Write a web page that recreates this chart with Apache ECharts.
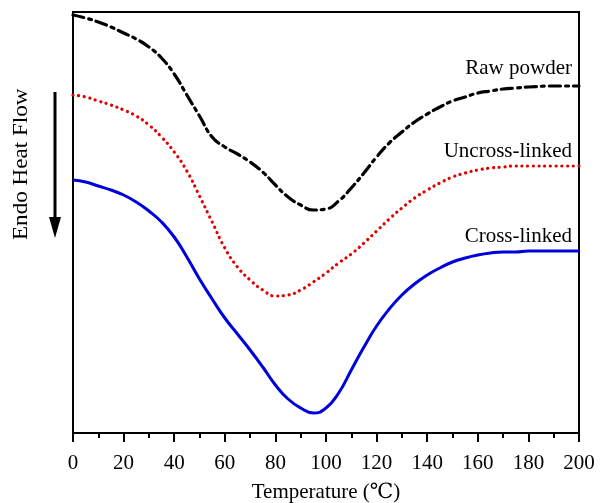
<!DOCTYPE html>
<html>
<head>
<meta charset="utf-8">
<script src="https://cdn.jsdelivr.net/npm/echarts@6/dist/echarts.min.js"></script>
<style>html,body{margin:0;padding:0;background:#fff}#c{width:605px;height:503px}</style>
</head>
<body>
<div id="c"></div>
<script>
// Temperature (°C)
const temps = [0,5,10,15,20,25,30,35,40,45,50,55,60,65,70,75,80,85,90,95,100,105,110,115,120,125,130,135,140,145,150,155,160,165,170,175,180,190,200];
// Heat flow readings (arbitrary units, measured downward from the top of the plot)
const rawPx =        [15,18,22,27,33,39,47,58,74,95,116,137,147,154,162,172,185,197,205,210,209,201,188,173,157,143,132,122,114,107,101,97,93,91,89,88,87,86,86];
const uncrossPx =    [95,97,101,105,110,116,125,137,152,171,196,222,248,267,280,290,296,295,290,282,273,263,254,243,231,219,208,198,190,183,177,173,170,168,167,166,166,166,166];
const crossPx =      [180,182,186,190,195,202,211,222,237,257,279,299,318,334,350,367,385,399,408,413,408,393,370,347,326,309,295,284,275,268,262,258,255,253,252,252,251,251,251];
const rawPowder = rawPx.map(v => 433 - v);
const uncrossLinked = uncrossPx.map(v => 433 - v);
const crossLinked = crossPx.map(v => 433 - v);
const xTicks = [0,20,40,60,80,100,120,140,160,180,200];
const seriesNames = ['Raw powder','Uncross-linked','Cross-linked'];

const font = '"Liberation Serif","DejaVu Serif",serif';
const pair = (arr) => temps.map((t,i) => [t, arr[i]]);

const chart = echarts.init(document.getElementById('c'));
chart.setOption({
  animation: false,
  grid: { left: 73, right: 26, top: 12, bottom: 70, containLabel: false, outerBoundsMode: 'none',
          show: true, borderColor: '#000', borderWidth: 2, backgroundColor: 'transparent' },
  xAxis: {
    type: 'value', min: 0, max: 200, interval: 20,
    axisLine: { show: true, lineStyle: { color: '#000', width: 2 } },
    axisTick: { show: true, inside: false, length: 9, lineStyle: { color: '#000', width: 2 } },
    minorTick: { show: true, splitNumber: 2, length: 5, lineStyle: { color: '#000', width: 2 } },
    splitLine: { show: false },
    axisLabel: { color: '#000', fontFamily: font, fontSize: 21, margin: 20, formatter: v => xTicks.includes(v) ? String(v) : '' },
    name: 'Temperature (\u2103)', nameLocation: 'middle', nameGap: 49,
    nameTextStyle: { color: '#000', fontFamily: font, fontSize: 21 }
  },
  yAxis: {
    type: 'value', min: 0, max: 421,
    axisLine: { show: true, lineStyle: { color: '#000', width: 2 } },
    axisTick: { show: false }, axisLabel: { show: false }, splitLine: { show: false }
  },
  series: [
    { name: seriesNames[0], type: 'line', data: pair(rawPowder), smooth: 0.5, symbol: 'none',
      lineStyle: { color: '#000', width: 3.2, type: [11, 5, 3, 5], cap: 'round' } },
    { name: seriesNames[1], type: 'line', data: pair(uncrossLinked), smooth: 0.5, symbol: 'none',
      lineStyle: { color: '#e00000', width: 3.2, type: [0.1, 5.6], cap: 'round' } },
    { name: seriesNames[2], type: 'line', data: pair(crossLinked), smooth: 0.5, symbol: 'none',
      lineStyle: { color: '#0000dd', width: 3 } }
  ],
  graphic: [
    { type: 'text', right: 33, top: 58, style: { text: seriesNames[0], font: '21px ' + font, fill: '#000' } },
    { type: 'text', right: 33, top: 141, style: { text: seriesNames[1], font: '21px ' + font, fill: '#000' } },
    { type: 'text', right: 33, top: 226, style: { text: seriesNames[2], font: '21px ' + font, fill: '#000' } },
    { type: 'text', x: 10, y: 240, rotation: Math.PI / 2, scaleX: 1.05,
      style: { text: 'Endo Heat Flow', font: '22px ' + font, fill: '#000' } },
    { type: 'line', shape: { x1: 55, y1: 92, x2: 55, y2: 222 }, style: { stroke: '#000', lineWidth: 3 } },
    { type: 'polygon', shape: { points: [[49, 217], [61, 217], [55, 238]] }, style: { fill: '#000' } }
  ]
});
</script>
</body>
</html>
